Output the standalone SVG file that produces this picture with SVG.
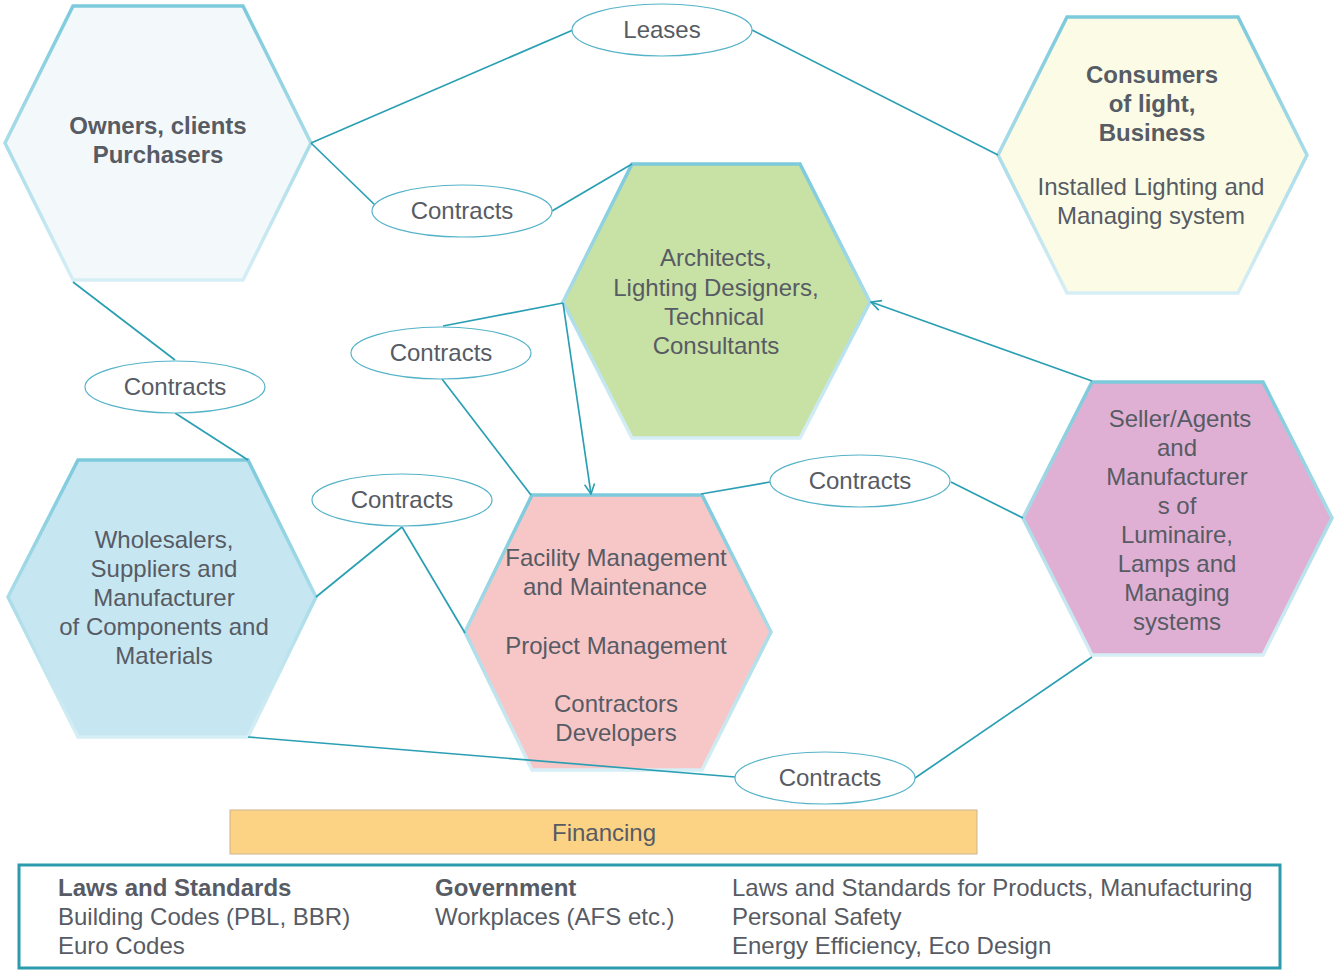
<svg xmlns="http://www.w3.org/2000/svg" width="1334" height="970" viewBox="0 0 1334 970">
<defs>
<linearGradient id="hexStroke" x1="0" y1="0" x2="0" y2="1">
<stop offset="0" stop-color="#7ccadc"/>
<stop offset="1" stop-color="#d6eef5"/>
</linearGradient>
<marker id="arrow" viewBox="0 0 12 12" refX="11" refY="6" markerWidth="12" markerHeight="12" markerUnits="userSpaceOnUse" orient="auto">
<path d="M1,1 L11,6 L1,11" fill="none" stroke="#2a9fb3" stroke-width="1.6"/>
</marker>
</defs>
<style>
.hex{stroke:url(#hexStroke);stroke-width:3.5;stroke-linejoin:miter}
.t{font-family:"Liberation Sans",Arial,sans-serif;font-size:24px;fill:#575b64;text-anchor:middle}
.b{font-weight:bold}
.l{text-anchor:start}
.conn{stroke:#2a9fb3;stroke-width:1.7;fill:none}
.ell{fill:#ffffff;stroke:#55b3c8;stroke-width:1.2}
</style>
<rect width="1334" height="970" fill="#ffffff"/>

<g id="owners">
<polygon class="hex" fill="#f3f9fb" points="73,6 243,6 311,143 243,280 73,280 5,143"/>
<text class="t b" x="158" y="134">Owners, clients</text>
<text class="t b" x="158" y="163">Purchasers</text>
</g>

<g id="consumers">
<polygon class="hex" fill="#fbfbe6" points="1067,17 1238,17 1307,155 1238,293 1067,293 998,155"/>
<text class="t b" x="1152" y="83">Consumers</text>
<text class="t b" x="1152" y="112">of light,</text>
<text class="t b" x="1152" y="141">Business</text>
<text class="t" x="1151" y="195">Installed Lighting and</text>
<text class="t" x="1151" y="224">Managing system</text>
</g>

<g id="architects">
<polygon class="hex" fill="#c8e1a4" points="632,164 800,164 870,302 800,438 632,438 563,302"/>
<text class="t" x="716" y="266">Architects,</text>
<text class="t" x="716" y="296">Lighting Designers,</text>
<text class="t" x="714" y="325">Technical</text>
<text class="t" x="716" y="354">Consultants</text>
</g>

<g id="seller">
<polygon class="hex" fill="#dfb0d3" points="1092,382 1263,382 1332,518 1263,655 1092,655 1023,518"/>
<text class="t" x="1180" y="427">Seller/Agents</text>
<text class="t" x="1177" y="456">and</text>
<text class="t" x="1177" y="485">Manufacturer</text>
<text class="t" x="1177" y="514">s of</text>
<text class="t" x="1177" y="543">Luminaire,</text>
<text class="t" x="1177" y="572">Lamps and</text>
<text class="t" x="1177" y="601">Managing</text>
<text class="t" x="1177" y="630">systems</text>
</g>

<g id="wholesalers">
<polygon class="hex" fill="#c6e7f1" points="78,460 248,460 316,597 248,737 78,737 8,597"/>
<text class="t" x="164" y="548">Wholesalers,</text>
<text class="t" x="164" y="577">Suppliers and</text>
<text class="t" x="164" y="606">Manufacturer</text>
<text class="t" x="164" y="635">of Components and</text>
<text class="t" x="164" y="664">Materials</text>
</g>

<g id="facility">
<polygon class="hex" fill="#f7c7c8" points="532,495 702,495 771,632 702,770 532,770 465,632"/>
<text class="t" x="616" y="566">Facility Management</text>
<text class="t" x="615" y="595">and Maintenance</text>
<text class="t" x="616" y="654">Project Management</text>
<text class="t" x="616" y="712">Contractors</text>
<text class="t" x="616" y="741">Developers</text>
</g>

<g id="connectors">
<line class="conn" x1="311" y1="143" x2="573" y2="30"/>
<line class="conn" x1="752" y1="30" x2="998" y2="155"/>
<line class="conn" x1="311" y1="143" x2="376" y2="206"/>
<line class="conn" x1="552" y1="211" x2="632" y2="164"/>
<line class="conn" x1="563" y1="303" x2="443" y2="326"/>
<line class="conn" x1="442" y1="379" x2="531" y2="495"/>
<line class="conn" x1="563" y1="303" x2="591" y2="494" marker-end="url(#arrow)"/>
<line class="conn" x1="73" y1="282" x2="175" y2="360"/>
<line class="conn" x1="175" y1="413" x2="248" y2="460"/>
<line class="conn" x1="402" y1="527" x2="316" y2="597"/>
<line class="conn" x1="402" y1="527" x2="465" y2="633"/>
<line class="conn" x1="701" y1="494" x2="770" y2="482"/>
<line class="conn" x1="951" y1="482" x2="1023" y2="518"/>
<line class="conn" x1="1092" y1="381" x2="871" y2="302" marker-end="url(#arrow)"/>
<line class="conn" x1="248" y1="737" x2="735" y2="777"/>
<line class="conn" x1="915" y1="778" x2="1092" y2="657"/>
</g>

<g id="leases">
<ellipse class="ell" cx="662" cy="30" rx="90" ry="26"/>
<text class="t" x="662" y="38">Leases</text>
</g>
<g id="contracts1">
<ellipse class="ell" cx="462" cy="211" rx="90" ry="26"/>
<text class="t" x="462" y="219">Contracts</text>
</g>
<g id="contracts2">
<ellipse class="ell" cx="441" cy="353" rx="90" ry="26"/>
<text class="t" x="441" y="361">Contracts</text>
</g>
<g id="contracts3">
<ellipse class="ell" cx="175" cy="387" rx="90" ry="26"/>
<text class="t" x="175" y="395">Contracts</text>
</g>
<g id="contracts4">
<ellipse class="ell" cx="402" cy="500" rx="90" ry="26"/>
<text class="t" x="402" y="508">Contracts</text>
</g>
<g id="contracts5">
<ellipse class="ell" cx="860" cy="481" rx="90" ry="26"/>
<text class="t" x="860" y="489">Contracts</text>
</g>
<g id="contracts6">
<ellipse class="ell" cx="825" cy="778" rx="90" ry="26"/>
<text class="t" x="830" y="786">Contracts</text>
</g>

<g id="financing">
<rect x="230" y="810" width="747" height="44" fill="#fcd384" stroke="#cdb48c" stroke-width="1"/>
<text class="t" x="604" y="841">Financing</text>
</g>

<g id="laws">
<rect x="19" y="865" width="1261" height="103" fill="#ffffff" stroke="#2b9bad" stroke-width="3"/>
<text class="t l b" x="58" y="896">Laws and Standards</text>
<text class="t l" x="58" y="925">Building Codes (PBL, BBR)</text>
<text class="t l" x="58" y="954">Euro Codes</text>
<text class="t l b" x="435" y="896">Government</text>
<text class="t l" x="435" y="925">Workplaces (AFS etc.)</text>
<text class="t l" x="732" y="896">Laws and Standards for Products, Manufacturing</text>
<text class="t l" x="732" y="925">Personal Safety</text>
<text class="t l" x="732" y="954">Energy Efficiency, Eco Design</text>
</g>
</svg>
